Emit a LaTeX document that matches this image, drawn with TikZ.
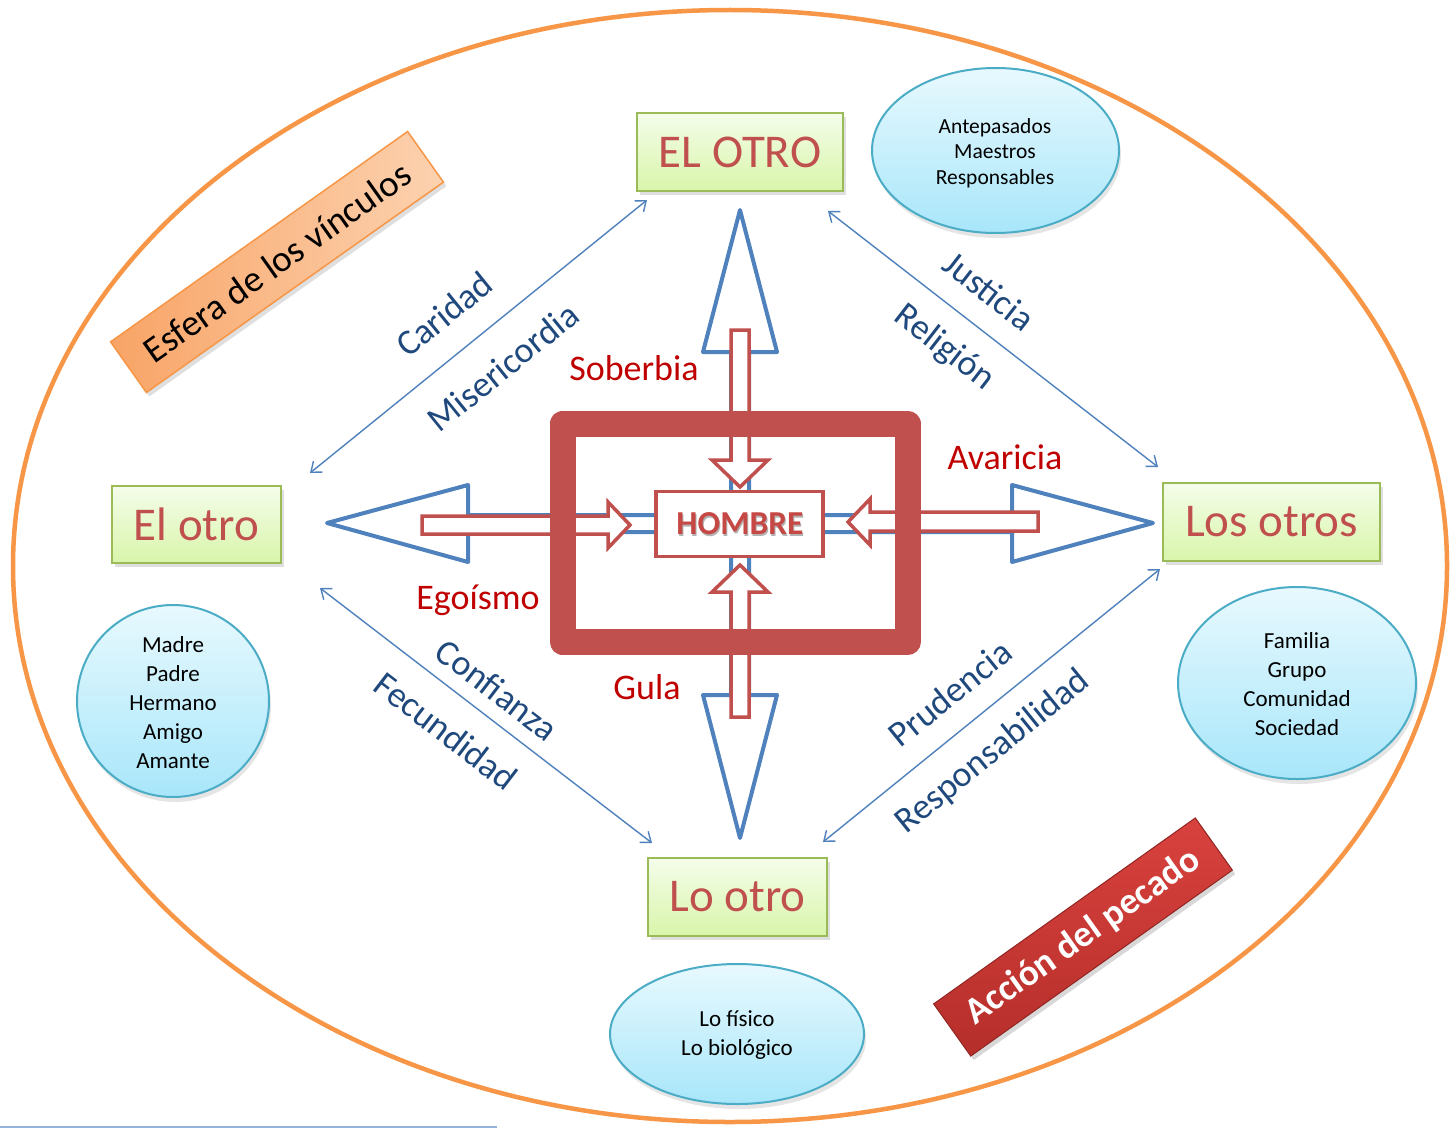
\documentclass[tikz,border=0pt]{standalone}
\usepackage{fontspec}
\setmainfont{Carlito}
\usetikzlibrary{arrows.meta,shadows,shapes.geometric}
\definecolor{orng}{HTML}{F79646}
\definecolor{orngdark}{HTML}{F8A466}
\definecolor{orngpale}{HTML}{FCD2B0}
\definecolor{grnline}{HTML}{9BBB59}
\definecolor{grntop}{HTML}{F4FDEA}
\definecolor{grnbot}{HTML}{D9F5AA}
\definecolor{boxred}{HTML}{C0504D}
\definecolor{bantop}{HTML}{D9423E}
\definecolor{banbot}{HTML}{B52E2A}
\definecolor{lblred}{HTML}{C00000}
\definecolor{lblblue}{HTML}{1F497D}
\definecolor{arrblue}{HTML}{4F81BD}
\definecolor{cyline}{HTML}{4BACC6}
\definecolor{cytop}{HTML}{E8F9FE}
\definecolor{cybot}{HTML}{A8E6FA}
\definecolor{thinline}{HTML}{95B3D7}
\begin{document}
\begin{tikzpicture}[x=1pt,y=-1pt,
  greenbox/.style={draw=grnline, line width=2, top color=grntop, bottom color=grnbot,
    text=boxred, font=\fontsize{47}{55}\selectfont, inner sep=0,
    drop shadow={shadow xshift=3pt, shadow yshift=-4pt, opacity=0.25}},
  bubble/.style={ellipse, draw=cyline, line width=2, top color=cytop, bottom color=cybot,
    inner sep=0, drop shadow={shadow xshift=2pt, shadow yshift=-5pt, opacity=0.2}},
  bubbletext/.style={align=center, font=\fontsize{23}{29}\selectfont, inner sep=0},
  bigarrow/.style={draw=arrblue, line width=4, line join=round},
  redarrow/.style={draw=boxred, fill=white, line width=3.5, line join=miter},
  thinarrow/.style={draw=arrblue, line width=1.4, {Straight Barb[length=9pt,width=14pt]}-{Straight Barb[length=9pt,width=14pt]}},
  bluelbl/.style={text=lblblue, font=\fontsize{36}{40}\selectfont, inner sep=0},
  redlbl/.style={text=lblred, font=\fontsize{36}{40}\selectfont, inner sep=0}
]
\useasboundingbox (0,0) rectangle (1450,1129);
\fill[white] (0,0) rectangle (1450,1129);

% big orange ellipse
\draw[orng, line width=4.5] (730,566) ellipse [x radius=717, y radius=556];

% bottom-left thin line
\coordinate (bl1) at (0,1127);
\coordinate (bl2) at (497,1127);
\draw[thinline, line width=1.5] (bl1) -- (bl2);

% banners
\node[draw=orng, line width=1.5, left color=orngdark, right color=orngpale,
  minimum width=364, minimum height=62, rotate=35.3, inner sep=0,
  font=\fontsize{37}{42}\selectfont,
  drop shadow={shadow xshift=3pt, shadow yshift=-4pt, opacity=0.25}]
  (esfera) at (277,262) {Esfera de los vínculos};
\node[draw=banbot!80!black, line width=1, top color=bantop, bottom color=banbot,
  minimum width=321, minimum height=64, rotate=35.4, inner sep=0, text=white,
  font=\bfseries\fontsize{37}{42}\selectfont,
  drop shadow={shadow xshift=3pt, shadow yshift=-4pt, opacity=0.3}]
  (accion) at (1083,937) {Acción del pecado};

% green boxes
\node[greenbox, minimum width=206, minimum height=78] (elOTRO) at (740,152) {EL OTRO};
\node[greenbox, minimum width=169, minimum height=77] (elotro) at (196.5,524.5) {El otro};
\node[greenbox, minimum width=217, minimum height=78] (losotros) at (1271.5,522) {Los otros};
\node[greenbox, minimum width=179, minimum height=78] (lootro) at (737.5,897) {Lo otro};

% bubbles
\node[bubble, minimum width=247, minimum height=165] (bTR) at (995.5,150.5) {};
\node[bubbletext, font=\fontsize{21.5}{25.3}\selectfont] (tTR) at (995,153) {Antepasados\\Maestros\\Responsables};
\node[bubble, minimum width=192, minimum height=192] (bL) at (173,701) {};
\node[bubbletext] (tL) at (173,702.5) {Madre\\Padre\\Hermano\\Amigo\\Amante};
\node[bubble, minimum width=238, minimum height=192] (bR) at (1297,683) {};
\node[bubbletext] (tR) at (1297,684.5) {Familia\\Grupo\\Comunidad\\Sociedad};
\node[bubble, minimum width=254, minimum height=140] (bB) at (737,1034) {};
\node[bubbletext] (tB) at (737,1035.5) {Lo físico\\Lo biológico};

% thin double-headed connectors
\coordinate (c1a) at (310,473); \coordinate (c1b) at (647,200);
\coordinate (c2a) at (828,211); \coordinate (c2b) at (1158,467);
\coordinate (c3a) at (320,588); \coordinate (c3b) at (652,843);
\coordinate (c4a) at (823,842); \coordinate (c4b) at (1160,569);
\draw[thinarrow] (c1a) -- (c1b);
\draw[thinarrow] (c2a) -- (c2b);
\draw[thinarrow] (c3a) -- (c3b);
\draw[thinarrow] (c4a) -- (c4b);

% blue labels
\node[bluelbl, rotate=39] (caridad) at (444,314) {Caridad};
\node[bluelbl, rotate=39] (miseri) at (503,367) {Misericordia};
\node[bluelbl, rotate=-37.8] (justicia) at (989,291) {Justicia};
\node[bluelbl, rotate=-37.8] (religion) at (944,348) {Religión};
\node[bluelbl, rotate=-37.5] (confianza) at (497,690) {Confianza};
\node[bluelbl, rotate=-37.5] (fecundidad) at (446,731) {Fecundidad};
\node[bluelbl, rotate=39] (prudencia) at (950,693) {Prudencia};
\node[bluelbl, rotate=39] (respons) at (993,752) {Responsabilidad};

% big blue block-arrow outlines
\draw[bigarrow] (731,491) -- (731,352) -- (703,352) -- (740,210) -- (777,352) -- (749,352) -- (749,491);
\draw[bigarrow] (731,557) -- (731,695) -- (703,695) -- (740,838) -- (777,695) -- (749,695) -- (749,557);
\draw[bigarrow] (656,515) -- (468,515) -- (468,485) -- (327,523) -- (468,562) -- (468,532) -- (656,532);
\draw[bigarrow] (823,515) -- (1012,515) -- (1012,485) -- (1153,523) -- (1012,562) -- (1012,532) -- (823,532);

% red hollow arrows
\draw[redarrow] (731,330) -- (731,460) -- (712,460) -- (740,487) -- (768,460) -- (749,460) -- (749,330) -- cycle;
\draw[redarrow] (731,717) -- (731,592) -- (712,592) -- (740,565) -- (768,592) -- (749,592) -- (749,717) -- cycle;
\draw[redarrow] (422,516) -- (608,516) -- (608,502) -- (630,525) -- (608,548) -- (608,534) -- (422,534) -- cycle;
\draw[redarrow] (1038,512) -- (870,512) -- (870,499) -- (848,522) -- (870,545) -- (870,531) -- (1038,531) -- cycle;

% thick red frame
\draw[boxred, line width=26, line join=round] (562.5,423.5) rectangle (907.5,642);

% HOMBRE box
\node[draw=boxred, line width=3.5, fill=white, minimum width=167, minimum height=65, inner sep=0] (hombre) at (739.5,524) {};
\node[text=black!30, font=\bfseries\fontsize{33.5}{38}\selectfont, inner sep=0] (hombresh) at (741,526) {HOMBRE};
\node[text=boxred!90!red, font=\bfseries\fontsize{33.5}{38}\selectfont, inner sep=0] (hombretxt) at (740,524) {HOMBRE};

% red labels
\node[redlbl] (soberbia) at (634,368) {Soberbia};
\node[redlbl] (avaricia) at (1005,457) {Avaricia};
\node[redlbl] (egoismo) at (478,600) {Egoísmo};
\node[redlbl] (gula) at (647,687) {Gula};
\end{tikzpicture}
\end{document}
